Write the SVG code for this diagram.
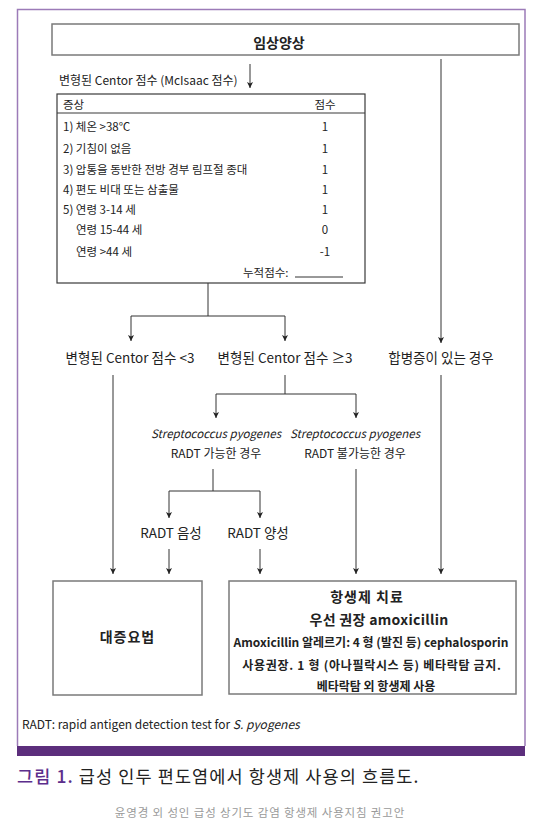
<svg xmlns="http://www.w3.org/2000/svg" width="535" height="828" viewBox="0 0 535 828">
<defs>
<marker id="ah" markerUnits="userSpaceOnUse" markerWidth="7" markerHeight="7" refX="6" refY="3.5" orient="auto">
<path d="M0,0.5 L6,3.5 L0,6.5 L1.5,3.5 z" fill="#222"/>
</marker>
<style>
text{font-family:"Noto Sans CJK KR","Noto Sans",sans-serif;fill:#222}
.box{fill:#fff;stroke:#7a7a7a;stroke-width:1.5}
.tbl{fill:#fff;stroke:#3a3a3a;stroke-width:1.2}
.c{fill:none;stroke:#333;stroke-width:1}
.a{marker-end:url(#ah)}
.t12{font-size:11.5px}
.t13{font-size:13.5px}
.mid{text-anchor:middle}
.b{font-weight:bold}
.it{font-style:italic}
</style>
</defs>
<rect x="0" y="0" width="535" height="828" fill="#fff"/>
<g id="frame">
<path d="M17.5,746 V9.5 H525 V746" fill="none" stroke="#9c7bb8" stroke-width="1.5"/>
<rect x="17" y="746" width="508" height="10" fill="#5c2e7c"/>
</g>
<g id="connectors">
<line class="c a" x1="250" y1="64" x2="250" y2="88"/>
<line class="c a" x1="441" y1="59" x2="441" y2="343"/>
<polyline class="c" points="208,283 208,316"/>
<polyline class="c a" points="208,316 131,316 131,341"/>
<polyline class="c a" points="208,316 285,316 285,341"/>
<line class="c a" x1="113" y1="375" x2="113" y2="574"/>
<polyline class="c" points="285,375 285,394"/>
<polyline class="c a" points="285,394 216,394 216,418"/>
<polyline class="c a" points="285,394 356,394 356,418"/>
<polyline class="c" points="213,469 213,491"/>
<polyline class="c a" points="213,491 169,491 169,518"/>
<polyline class="c a" points="213,491 260,491 260,518"/>
<line class="c a" x1="169" y1="549" x2="169" y2="574"/>
<line class="c a" x1="260" y1="549" x2="260" y2="574"/>
<line class="c a" x1="356" y1="469" x2="356" y2="574"/>
<line class="c a" x1="441" y1="375" x2="441" y2="574"/>
</g>
<g id="clinical">
<rect class="box" x="52" y="24" width="467" height="31"/>
<text class="t13 b mid" x="279" y="48" style="font-size:14px">임상양상</text>
</g>
<g id="centor-label">
<text x="59" y="85" style="font-size:12px">변형된 Centor 점수 (McIsaac 점수)</text>
</g>
<g id="centor-table">
<rect class="tbl" x="57" y="94" width="308" height="189"/>
<line x1="57" y1="113" x2="365" y2="113" stroke="#3a3a3a" stroke-width="1.2"/>
<text class="t12" x="63" y="108.5">증상</text>
<text class="t12 mid" x="325" y="108.5">점수</text>
<text class="t12" x="63" y="131">1) 체온 &gt;38℃</text>
<text class="t12 mid" x="325" y="131">1</text>
<text class="t12" x="63" y="152.5">2) 기침이 없음</text>
<text class="t12 mid" x="325" y="152.5">1</text>
<text class="t12" x="63" y="173.5">3) 압통을 동반한 전방 경부 림프절 종대</text>
<text class="t12 mid" x="325" y="173.5">1</text>
<text class="t12" x="63" y="194">4) 편도 비대 또는 삼출물</text>
<text class="t12 mid" x="325" y="194">1</text>
<text class="t12" x="63" y="214">5) 연령 3-14 세</text>
<text class="t12 mid" x="325" y="214">1</text>
<text class="t12" x="76" y="234">연령 15-44 세</text>
<text class="t12 mid" x="325" y="234">0</text>
<text class="t12" x="76" y="255.5">연령 &gt;44 세</text>
<text class="t12 mid" x="325" y="255.5">-1</text>
<text class="t12" x="243" y="277">누적점수:</text>
<line x1="295" y1="277" x2="343" y2="277" stroke="#333" stroke-width="1"/>
</g>
<g id="lt3">
<text class="t13 mid" x="130" y="363">변형된 Centor 점수 &lt;3</text>
</g>
<g id="ge3">
<text class="t13 mid" x="285" y="363">변형된 Centor 점수 ≥3</text>
</g>
<g id="complication">
<text class="t13 mid" x="441" y="363">합병증이 있는 경우</text>
</g>
<g id="radt-possible">
<text class="t12 mid it" x="216" y="437.5">Streptococcus pyogenes</text>
<text class="mid" x="216" y="457.5" style="font-size:12px">RADT 가능한 경우</text>
</g>
<g id="radt-impossible">
<text class="t12 mid it" x="355" y="437.5">Streptococcus pyogenes</text>
<text class="mid" x="355" y="457.5" style="font-size:12px">RADT 불가능한 경우</text>
</g>
<g id="radt-neg">
<text class="t13 mid" x="171" y="538">RADT 음성</text>
</g>
<g id="radt-pos">
<text class="t13 mid" x="258" y="538">RADT 양성</text>
</g>
<g id="symptomatic">
<rect class="box" x="53" y="581" width="149" height="114"/>
<text class="b mid" x="127.5" y="642" style="font-size:14px;letter-spacing:1px">대증요법</text>
</g>
<g id="antibiotic">
<rect class="box" x="229" y="581" width="287" height="113"/>
<text class="b mid" x="367" y="602" style="font-size:14px;letter-spacing:1px">항생제 치료</text>
<text class="b mid" x="379" y="625" style="font-size:14px;letter-spacing:0.3px">우선 권장 amoxicillin</text>
<text class="b mid" x="371" y="647" style="font-size:12px">Amoxicillin 알레르기: 4 형 (발진 등) cephalosporin</text>
<text class="b mid" x="372" y="670" style="font-size:12px;letter-spacing:0.7px">사용권장. 1 형 (아나필락시스 등) 베타락탐 금지.</text>
<text class="b mid" x="376" y="691" style="font-size:12px">베타락탐 외 항생제 사용</text>
</g>
<g id="footnote">
<text x="22" y="729" style="font-size:12px">RADT: rapid antigen detection test for <tspan font-style="italic">S. pyogenes</tspan></text>
</g>
<g id="caption">
<text x="17" y="783" style="font-size:17.5px;letter-spacing:1.1px"><tspan style="fill:#5c2e8c;font-weight:500">그림 1.</tspan> 급성 인두 편도염에서 항생제 사용의 흐름도.</text>
</g>
<g id="credit">
<text class="mid" x="260" y="817" style="font-size:11.5px;letter-spacing:0.85px;fill:#9a9a9a">윤영경 외 성인 급성 상기도 감염 항생제 사용지침 권고안</text>
</g>
</svg>
